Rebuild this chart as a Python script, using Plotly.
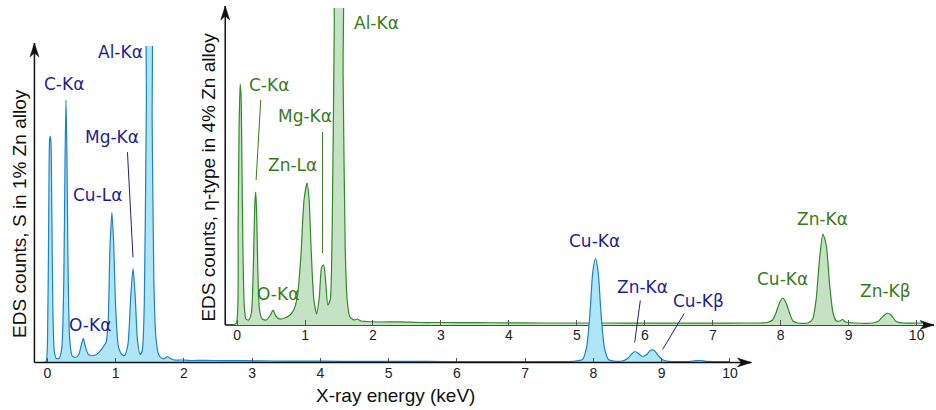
import plotly.graph_objects as go

# ---------------- data ----------------
# Main spectrum: "S in 1% Zn alloy" (blue)
blue_energy = [-0.07, -0.02, 0.005, 0.02, 0.032, 0.042, 0.052, 0.065, 0.08, 0.10, 0.13, 0.17,
               0.21, 0.24, 0.258, 0.272, 0.285, 0.30, 0.325, 0.36, 0.41, 0.46, 0.495, 0.525,
               0.555, 0.60, 0.66, 0.72, 0.78, 0.82, 0.86, 0.89, 0.915, 0.945, 0.97, 1.0, 1.04,
               1.09, 1.13, 1.18, 1.22, 1.255, 1.285, 1.32, 1.36, 1.39, 1.42, 1.45, 1.47, 1.51,
               1.535, 1.56, 1.59, 1.63, 1.68, 1.72, 1.76, 1.80, 1.86, 1.95, 2.1, 2.3, 2.6, 2.9,
               3.3, 3.8, 4.3, 4.8, 5.3, 5.8, 6.3, 6.8, 7.3, 7.7, 7.84, 7.90, 7.95, 7.99, 8.03,
               8.07, 8.11, 8.16, 8.22, 8.30, 8.42, 8.50, 8.56, 8.61, 8.66, 8.72, 8.78, 8.84,
               8.89, 8.95, 9.02, 9.10, 9.40, 9.50, 9.57, 9.65, 9.80, 10.0]
blue_counts = [0, 1, 40, 150, 222, 226, 220, 150, 55, 12, 4, 4,
               14, 80, 200, 262, 215, 110, 25, 7, 5, 8, 17, 24,
               16, 8, 7, 8, 12, 16, 20, 40, 110, 150, 120, 55, 16,
               8, 7, 18, 65, 94, 68, 22, 8, 12, 60, 260, 400, 400,
               240, 80, 25, 8, 4, 4, 6, 4, 2.5, 2.5, 2, 2.2, 1.8, 1.8,
               1.5, 1.4, 1.2, 1.2, 1.1, 1, 1, 1, 1, 1.2, 3, 15, 50, 90, 104,
               90, 50, 15, 3, 1.5, 1.5, 4, 8.5, 11, 9, 6, 8, 12.5,
               12, 7, 2.5, 1.2, 1, 1.8, 2, 1.2, 1, 1]

# Inset spectrum: "eta-type in 4% Zn alloy" (green)
green_energy = [-0.06, -0.01, 0.015, 0.03, 0.045, 0.058, 0.07, 0.085, 0.105, 0.13, 0.17, 0.21,
                0.24, 0.26, 0.274, 0.288, 0.305, 0.33, 0.37, 0.43, 0.49, 0.53, 0.57, 0.63, 0.70,
                0.78, 0.84, 0.89, 0.94, 0.985, 1.03, 1.06, 1.09, 1.13, 1.17, 1.21, 1.245, 1.275,
                1.305, 1.335, 1.37, 1.40, 1.43, 1.45, 1.53, 1.56, 1.59, 1.62, 1.66, 1.72, 1.77,
                1.82, 1.9, 2.1, 2.4, 2.7, 3.0, 3.5, 4.0, 4.5, 5.0, 5.5, 6.0, 6.5, 7.0, 7.5, 7.80,
                7.88, 7.93, 7.98, 8.03, 8.08, 8.13, 8.18, 8.25, 8.40, 8.47, 8.52, 8.57, 8.62,
                8.67, 8.72, 8.77, 8.82, 8.87, 8.91, 8.95, 9.1, 9.35, 9.44, 9.51, 9.57, 9.63,
                9.70, 9.8, 10.0, 10.1]
green_counts = [0, 2, 100, 200, 241, 230, 170, 80, 20, 6, 5, 12,
                60, 120, 133, 112, 55, 15, 6, 5, 10, 15, 9, 6, 7,
                10, 16, 30, 70, 125, 142, 125, 75, 25, 11, 28, 58, 60,
                42, 20, 25, 100, 300, 400, 400, 250, 80, 25, 8, 5, 6,
                4, 3.5, 3, 3.2, 2.5, 2.5, 2.3, 2.2, 2, 2, 2, 1.8, 1.8, 1.8, 2, 2.5,
                5, 12, 22, 27, 22, 12, 4, 2, 2, 6, 25, 65, 91,
                80, 40, 12, 4, 4, 5.5, 3, 2, 2, 4, 9, 12, 9.5,
                3.5, 2, 2, 2]

tick_values = [0, 1, 2, 3, 4, 5, 6, 7, 8, 9, 10]
tick_labels = [str(v) for v in tick_values]

# peak labels: (text, energy, counts)
blue_labels = [("C-Kα", 0.24, 278), ("Al-Kα", 1.07, 310), ("Mg-Kα", 0.95, 225),
               ("Cu-Lα", 0.74, 167), ("O-Kα", 0.63, 37), ("Cu-Kα", 8.01, 121),
               ("Zn-Kα", 8.72, 75), ("Cu-Kβ", 9.54, 61)]
green_labels = [("Al-Kα", 2.05, 302), ("C-Kα", 0.47, 240), ("Mg-Kα", 1.0, 209),
                ("Zn-Lα", 0.81, 160), ("O-Kα", 0.60, 31), ("Cu-Kα", 8.03, 46),
                ("Zn-Kα", 8.61, 106), ("Zn-Kβ", 9.54, 34)]
# leader lines: (E_start, counts_start, E_end, counts_end)
blue_leaders = [(1.173, 210, 1.254, 105), (8.687, 62, 8.604, 20), (9.33, 49, 9.013, 13)]
green_leaders = [(0.348, 225, 0.28, 145), (1.258, 193, 1.258, 72)]

# ---------------- style ----------------
W, H = 936, 410
BLUE_LINE, BLUE_FILL, BLUE_TEXT = "#1b82c6", "#aee6f8", "#1f1f8c"
GREEN_LINE, GREEN_FILL, GREEN_TEXT = "#2e8b26", "#c6e2c4", "#3a7a1e"
LABEL_FONT = "DejaVu Sans"
AXIS_FONT = "Liberation Sans, Arial"


def px(x):
    return x / W


def py(y):
    return 1 - y / H


fig = go.Figure()

# inset (green) on x/y, drawn first (below)
fig.add_trace(go.Scatter(x=green_energy, y=green_counts, mode="lines",
                         line=dict(color=GREEN_LINE, width=1.2, shape="spline", smoothing=0.6),
                         fill="tozeroy", fillcolor=GREEN_FILL, xaxis="x", yaxis="y",
                         hoverinfo="skip", showlegend=False))
# main (blue) on x2/y2, drawn on top
fig.add_trace(go.Scatter(x=blue_energy, y=blue_counts, mode="lines",
                         line=dict(color=BLUE_LINE, width=1.2, shape="spline", smoothing=0.6),
                         fill="tozeroy", fillcolor=BLUE_FILL, xaxis="x2", yaxis="y2",
                         hoverinfo="skip", showlegend=False))

# axis geometry (pixels)
main_left, main_base, main_top, main_right = 34.5, 362.5, 46, 742
inset_left, inset_base, inset_top, inset_right = 225.7, 325, 8, 925

xcommon = dict(showgrid=False, zeroline=False, showline=False, ticks="inside", ticklen=5,
               tickwidth=1, tickcolor="#555", tickvals=tick_values, ticktext=tick_labels,
               tickfont=dict(family=AXIS_FONT, size=14, color="#222"))
ycommon = dict(showgrid=False, zeroline=False, showline=False, showticklabels=False, ticks="")

fig.update_layout(
    width=W, height=H, margin=dict(l=0, r=0, t=0, b=0),
    paper_bgcolor="white", plot_bgcolor="rgba(0,0,0,0)",
    xaxis=dict(domain=[px(inset_left), px(inset_right)],
               range=[(inset_left - 237.6) / 68.1, (inset_right - 237.6) / 68.1],
               anchor="y", **xcommon),
    yaxis=dict(domain=[py(inset_base), py(inset_top)], range=[0, 317], anchor="x", **ycommon),
    xaxis2=dict(domain=[px(main_left), px(main_right)],
                range=[(main_left - 47.5) / 68.4, (main_right - 47.5) / 68.4],
                anchor="y2", **xcommon),
    yaxis2=dict(domain=[py(main_base), py(main_top)], range=[0, 316], anchor="x2", **ycommon),
)

shapes = []


def axis_with_arrow(x0, y0, x1, y1, layer):
    # line in pixels, arrowhead at (x1, y1)
    shapes.append(dict(type="line", xref="paper", yref="paper", x0=px(x0), y0=py(y0),
                       x1=px(x1), y1=py(y1), line=dict(color="#111", width=1.5), layer=layer))
    L, hw, notch = 14, 4.5, 10
    if y0 == y1:  # horizontal, pointing right
        pts = [(x1, y1), (x1 - L, y1 - hw), (x1 - notch, y1), (x1 - L, y1 + hw)]
    else:  # vertical, pointing up
        pts = [(x1, y1), (x1 - hw, y1 + L), (x1, y1 + notch), (x1 + hw, y1 + L)]
    path = "M" + " L".join(f"{px(a):.5f},{py(b):.5f}" for a, b in pts) + " Z"
    shapes.append(dict(type="path", xref="paper", yref="paper", path=path,
                       fillcolor="#111", line=dict(color="#111", width=0.5), layer=layer))


axis_with_arrow(inset_left, inset_base, 936, inset_base, "below")
axis_with_arrow(inset_left, inset_base, inset_left, 6, "below")
axis_with_arrow(main_left, main_base, 753, main_base, "above")
axis_with_arrow(main_left, main_base, main_left, 43, "above")

for e0, c0, e1, c1 in blue_leaders:
    shapes.append(dict(type="line", xref="x2", yref="y2", x0=e0, y0=c0, x1=e1, y1=c1,
                       line=dict(color=BLUE_TEXT, width=1)))
for e0, c0, e1, c1 in green_leaders:
    shapes.append(dict(type="line", xref="x", yref="y", x0=e0, y0=c0, x1=e1, y1=c1,
                       line=dict(color=GREEN_TEXT, width=1)))

annotations = []
for t, e, c in blue_labels:
    annotations.append(dict(text=t, x=e, y=c, xref="x2", yref="y2", showarrow=False,
                            xanchor="center", yanchor="middle",
                            font=dict(family=LABEL_FONT, size=17, color=BLUE_TEXT)))
for t, e, c in green_labels:
    annotations.append(dict(text=t, x=e, y=c, xref="x", yref="y", showarrow=False,
                            xanchor="center", yanchor="middle",
                            font=dict(family=LABEL_FONT, size=17, color=GREEN_TEXT)))

title_font = dict(family=AXIS_FONT, size=19, color="#111")
annotations.append(dict(text="X-ray energy (keV)", x=px(396), y=py(395), xref="paper", yref="paper",
                        showarrow=False, xanchor="center", yanchor="middle", font=title_font))
annotations.append(dict(text="EDS counts, S in 1% Zn alloy", x=px(19), y=py(213), xref="paper",
                        yref="paper", showarrow=False, textangle=-90, xanchor="center",
                        yanchor="middle", font=title_font))
annotations.append(dict(text="EDS counts, η-type in 4% Zn alloy", x=px(209), y=py(177),
                        xref="paper", yref="paper", showarrow=False, textangle=-90,
                        xanchor="center", yanchor="middle", font=title_font))

fig.update_layout(shapes=shapes, annotations=annotations)
fig.write_html("out.html", config={"displayModeBar": False},
               post_script="document.body.style.margin='0';document.body.style.overflow='hidden';")
